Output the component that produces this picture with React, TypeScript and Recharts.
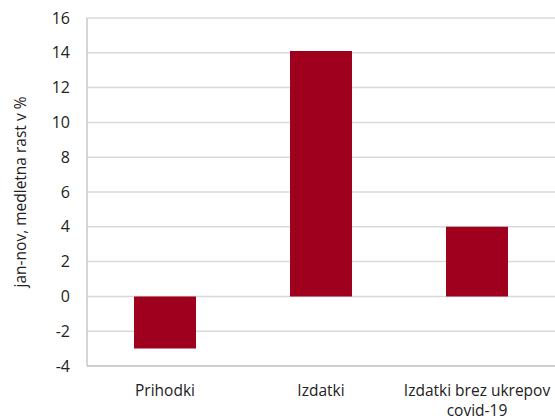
import React from 'react';
import { BarChart, Bar, XAxis, YAxis, CartesianGrid, Label } from 'recharts';

const categories = ['Prihodki', 'Izdatki', 'Izdatki brez ukrepov covid-19'];
const tickLines = [['Prihodki'], ['Izdatki'], ['Izdatki brez ukrepov', 'covid-19']];
const values = [-3.0, 14.1, 4.0];
const yTicks = [-4, -2, 0, 2, 4, 6, 8, 10, 12, 14, 16];

const data = categories.map((c, i) => ({ name: c, value: values[i] }));

const FONT = '"Open Sans", sans-serif';

const XTick = (props: any) => {
  const { x, y, index } = props;
  const lines = tickLines[index] || [String(props.payload.value)];
  return (
    <text x={x} y={y} textAnchor="middle" fill="#222" fontSize={15.5} fontFamily={FONT}>
      {lines.map((l, i) => (
        <tspan key={i} x={x} dy={i === 0 ? 22 : 20}>{l}</tspan>
      ))}
    </text>
  );
};

export default function App() {
  return (
    <div style={{ position: 'absolute', left: 0, top: 0, width: 555, height: 418, background: '#fff' }}>
      <BarChart
        width={555}
        height={418}
        data={data}
        margin={{ top: 18, right: 0, bottom: 0, left: 0 }}
        barCategoryGap="20%"
      >
        <CartesianGrid vertical={false} stroke="#d9d9d9" strokeWidth={1.5} />
        <XAxis
          dataKey="name"
          height={52}
          tickLine={false}
          axisLine={{ stroke: '#c8c8c8', strokeWidth: 1.5 }}
          tick={<XTick />}
          interval={0}
        />
        <YAxis
          width={87}
          domain={[-4, 16]}
          ticks={yTicks}
          interval={0}
          tickLine={false}
          axisLine={{ stroke: '#c8c8c8', strokeWidth: 1.5 }}
          tickMargin={11}
          tick={{ fill: '#222', fontSize: 16, fontFamily: FONT }}
        >
          <Label
            value="jan-nov, medletna rast v %"
            angle={-90}
            position="insideLeft"
            offset={20}
            style={{ textAnchor: 'middle', fill: '#222', fontSize: 15.5, fontFamily: FONT }}
          />
        </YAxis>
        <Bar dataKey="value" fill="#9e001e" barSize={62} isAnimationActive={false} />
      </BarChart>
    </div>
  );
}
